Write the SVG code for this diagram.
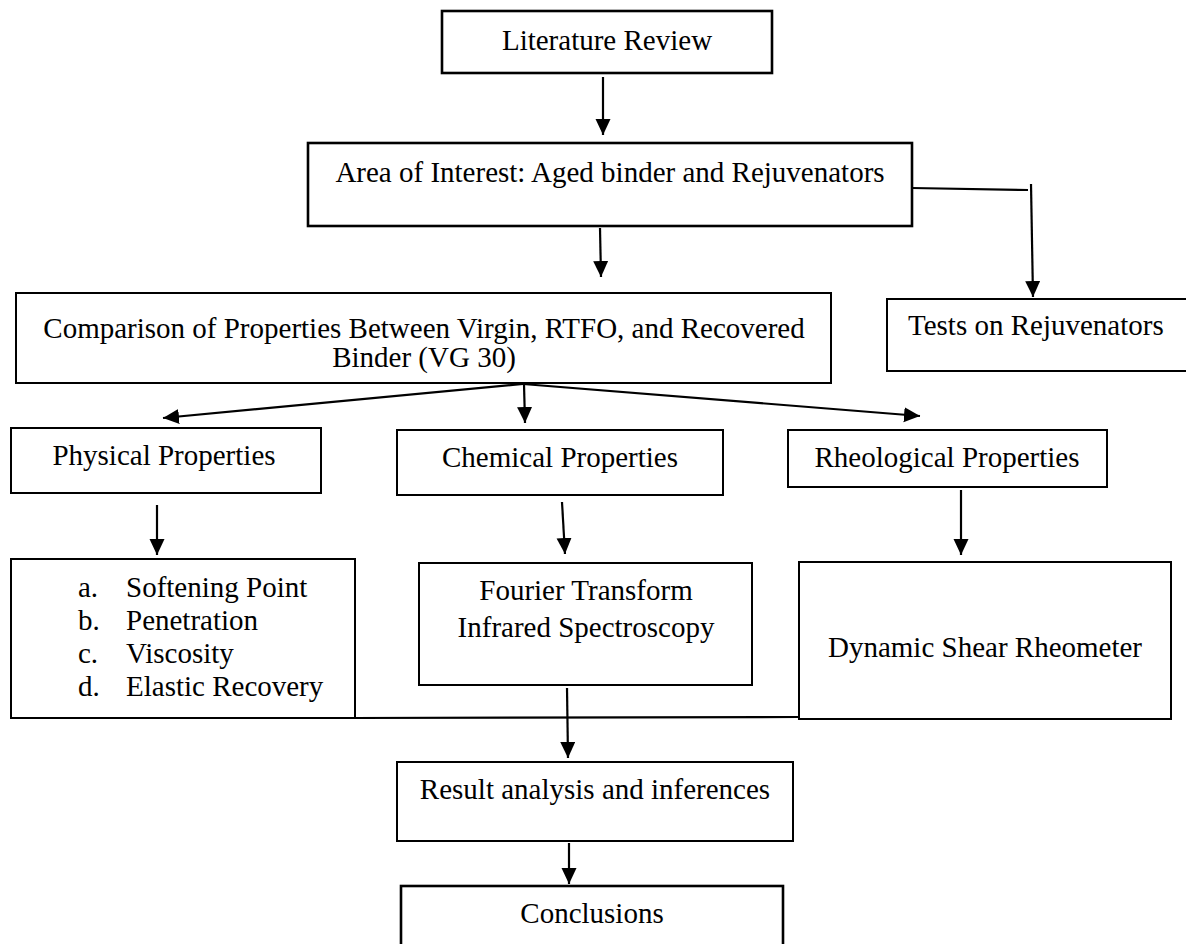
<svg xmlns="http://www.w3.org/2000/svg" width="1186" height="944" viewBox="0 0 1186 944">
<style>
  .box { fill: #ffffff; stroke: #000000; stroke-width: 2; }
  .thick { stroke-width: 2.6; }
  .t { font-family: "Liberation Serif", "Times New Roman", serif; font-size: 29px; fill: #000000; }
  .m { text-anchor: middle; }
  .ln { fill: none; stroke: #000000; stroke-width: 2.2; }
</style>
<defs>
  <marker id="ah" markerUnits="userSpaceOnUse" markerWidth="16" markerHeight="16" refX="16" refY="7.5" orient="auto">
    <path d="M0,0 L16,7.5 L0,15 z" fill="#000000"/>
  </marker>
</defs>
<rect x="0" y="0" width="1186" height="944" fill="#ffffff"/>

<g id="connectors">
  <line class="ln" x1="603" y1="77" x2="603" y2="135" marker-end="url(#ah)"/>
  <line class="ln" x1="600" y1="228" x2="601" y2="277" marker-end="url(#ah)"/>
  <polyline class="ln" points="912,188 1028,190"/>
  <line class="ln" x1="1031" y1="184" x2="1033" y2="297" marker-end="url(#ah)"/>
  <line class="ln" x1="523" y1="384" x2="163" y2="418" marker-end="url(#ah)"/>
  <line class="ln" x1="524" y1="384" x2="525" y2="423" marker-end="url(#ah)"/>
  <line class="ln" x1="523" y1="384" x2="920" y2="416" marker-end="url(#ah)"/>
  <line class="ln" x1="157" y1="505" x2="157" y2="555" marker-end="url(#ah)"/>
  <line class="ln" x1="562" y1="502" x2="565" y2="554" marker-end="url(#ah)"/>
  <line class="ln" x1="961" y1="490" x2="961" y2="555" marker-end="url(#ah)"/>
  <line class="ln" x1="355" y1="718" x2="798" y2="717"/>
  <line class="ln" x1="567" y1="688" x2="568" y2="758" marker-end="url(#ah)"/>
  <line class="ln" x1="569" y1="843" x2="569" y2="884" marker-end="url(#ah)"/>
</g>

<g id="literature-review">
  <rect class="box thick" x="442" y="11" width="330" height="62"/>
  <text class="t m" x="607" y="50">Literature Review</text>
</g>

<g id="area-of-interest">
  <rect class="box thick" x="308" y="143" width="604" height="83"/>
  <text class="t m" x="610" y="182">Area of Interest: Aged binder and Rejuvenators</text>
</g>

<g id="tests-on-rejuvenators">
  <rect class="box" x="887" y="299" width="310" height="72"/>
  <text class="t" x="908" y="335">Tests on Rejuvenators</text>
</g>

<g id="comparison">
  <rect class="box" x="16" y="293" width="815" height="90"/>
  <text class="t m" x="424" y="338">Comparison of Properties Between Virgin, RTFO, and Recovered</text>
  <text class="t m" x="424" y="367">Binder (VG 30)</text>
</g>

<g id="physical-properties">
  <rect class="box" x="11" y="428" width="310" height="65"/>
  <text class="t m" x="164" y="465">Physical Properties</text>
</g>

<g id="chemical-properties">
  <rect class="box" x="397" y="430" width="326" height="65"/>
  <text class="t m" x="560" y="467">Chemical Properties</text>
</g>

<g id="rheological-properties">
  <rect class="box" x="788" y="430" width="319" height="57"/>
  <text class="t m" x="947" y="467">Rheological Properties</text>
</g>

<g id="physical-tests">
  <rect class="box" x="11" y="559" width="344" height="159"/>
  <text class="t" x="78" y="597">a.</text>
  <text class="t" x="126" y="597">Softening Point</text>
  <text class="t" x="78" y="630">b.</text>
  <text class="t" x="126" y="630">Penetration</text>
  <text class="t" x="78" y="663">c.</text>
  <text class="t" x="126" y="663">Viscosity</text>
  <text class="t" x="78" y="696">d.</text>
  <text class="t" x="126" y="696">Elastic Recovery</text>
</g>

<g id="ftir">
  <rect class="box" x="419" y="563" width="333" height="122"/>
  <text class="t m" x="586" y="600">Fourier Transform</text>
  <text class="t m" x="586" y="637">Infrared Spectroscopy</text>
</g>

<g id="dsr">
  <rect class="box" x="799" y="562" width="372" height="157"/>
  <text class="t m" x="985" y="657">Dynamic Shear Rheometer</text>
</g>

<g id="result-analysis">
  <rect class="box" x="397" y="762" width="396" height="79"/>
  <text class="t m" x="595" y="799">Result analysis and inferences</text>
</g>

<g id="conclusions">
  <rect class="box thick" x="401" y="886" width="382" height="70"/>
  <text class="t m" x="592" y="923">Conclusions</text>
</g>
</svg>
